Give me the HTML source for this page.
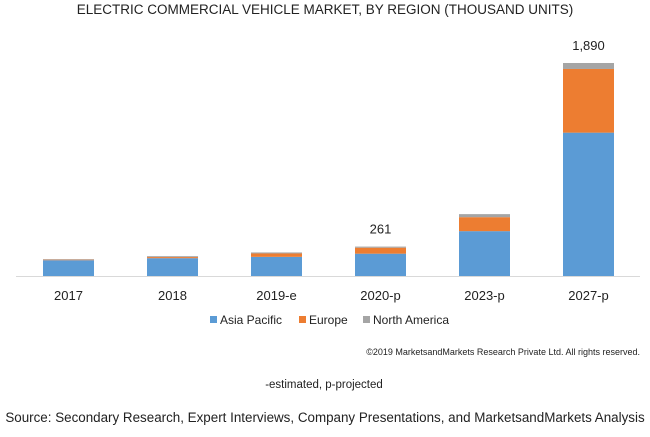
<!DOCTYPE html>
<html><head><meta charset="utf-8"><style>
body{margin:0;background:#fff;width:650px;height:432px;overflow:hidden;font-family:"Liberation Sans",sans-serif;}
svg text{font-family:"Liberation Sans",sans-serif;fill:#222;}
</style></head><body>
<svg id="chart" width="650" height="432">
<text x="325" y="14" font-size="13.5" text-anchor="middle">ELECTRIC COMMERCIAL VEHICLE MARKET, BY REGION (THOUSAND UNITS)</text>
<line x1="16" y1="276.5" x2="640" y2="276.5" stroke="#d9d9d9" stroke-width="1"/>
<g id="bars"></g>
<g>
<rect x="210" y="316" width="7" height="7" fill="#5b9bd5"/>
<text x="220" y="324" font-size="12">Asia Pacific</text>
<rect x="299" y="316" width="7" height="7" fill="#ed7d31"/>
<text x="309" y="324" font-size="12">Europe</text>
<rect x="363" y="316" width="7" height="7" fill="#a5a5a5"/>
<text x="373" y="324" font-size="12">North America</text>
</g>
<text x="640" y="355" font-size="9" text-anchor="end">©2019 MarketsandMarkets Research Private Ltd. All rights reserved.</text>
<text x="324" y="388" font-size="11.5" text-anchor="middle">-estimated, p-projected</text>
<text x="325" y="422" font-size="13.4" text-anchor="middle" fill="#000">Source: Secondary Research, Expert Interviews, Company Presentations, and MarketsandMarkets Analysis</text>
</svg>
<script>
const categories=["2017","2018","2019-e","2020-p","2023-p","2027-p"];
const asiaPacific=[140,158,170,198,398,1272];
const europe=[5,10,30,53,124,565];
const northAmerica=[5,8,9,10,27,53];
const totalLabels=["","","","261","","1,890"];
const NS="http://www.w3.org/2000/svg";
const baseY=276,scale=213/1890,x0=68.5,step=104,bw=51;
const xPos=i=>x0+i*step;
const yH=v=>v*scale;
const g=document.getElementById('bars');
const series=[[asiaPacific,"#5b9bd5","asia-pacific"],[europe,"#ed7d31","europe"],[northAmerica,"#a5a5a5","north-america"]];
categories.forEach((c,i)=>{
  let y=baseY;
  series.forEach(([arr,col,nm])=>{
    const h=yH(arr[i]);
    y-=h;
    const r=document.createElementNS(NS,'rect');
    r.setAttribute('x',xPos(i)-bw/2);r.setAttribute('y',y);
    r.setAttribute('width',bw);r.setAttribute('height',h);r.setAttribute('fill',col);
    
    
    g.appendChild(r);
  });
  const t=document.createElementNS(NS,'text');
  t.setAttribute('x',xPos(i));t.setAttribute('y',300);t.setAttribute('font-size','13');
  t.setAttribute('text-anchor','middle');t.textContent=c;
  
  
  g.appendChild(t);
  if(totalLabels[i]){
    const l=document.createElementNS(NS,'text');
    l.setAttribute('x',xPos(i));l.setAttribute('y',y-13);l.setAttribute('font-size','13');
    l.setAttribute('text-anchor','middle');l.textContent=totalLabels[i];
    
    
    g.appendChild(l);
  }
});
</script>
</body></html>
